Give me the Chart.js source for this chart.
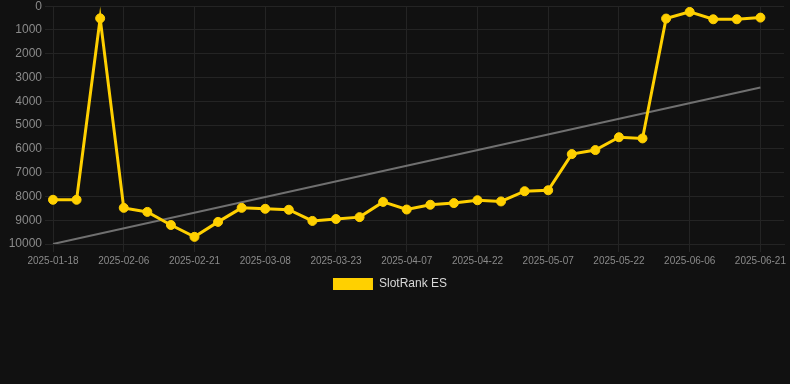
<!DOCTYPE html>
<html>
<head>
<meta charset="utf-8">
<script src="https://cdn.jsdelivr.net/npm/chart.js@4.4.1/dist/chart.umd.min.js"></script>
<style>
    html, body { margin: 0; padding: 0; background: #111111; overflow: hidden; }
    #wrap { width: 790px; height: 304px; margin-top: -4px; }
</style>
</head>
<body>
<div id="wrap"><canvas id="chart"></canvas></div>
<script>
// dates on the x axis (last one has no value, it only pads the right edge)
const dates = [
    '2025-01-18', '2025-01-27', '2025-02-01', '2025-02-06', '2025-02-11', '2025-02-16',
    '2025-02-21', '2025-02-26', '2025-03-03', '2025-03-08', '2025-03-13', '2025-03-18',
    '2025-03-23', '2025-03-28', '2025-04-02', '2025-04-07', '2025-04-12', '2025-04-17',
    '2025-04-22', '2025-04-27', '2025-05-02', '2025-05-07', '2025-05-12', '2025-05-17',
    '2025-05-22', '2025-05-27', '2025-06-01', '2025-06-06', '2025-06-11', '2025-06-16',
    '2025-06-21', '2025-06-26'
];

// rank values
const rankES = [
    8140, 8140, 510, 8480, 8650, 9200, 9700, 9070, 8480, 8520, 8560,
    9030, 8950, 8870, 8230, 8550, 8350, 8280, 8160, 8210, 7780, 7740,
    6220, 6050, 5510, 5560, 520, 240, 550, 550, 480
];

// trend line end points
const trendDates = ['2025-01-18', '2025-06-21'];
const trendValues = [10000, 3420];

const yTicks = { min: 0, max: 10000, step: 1000 };

const YELLOW = '#ffd000';
const GRID = '#242424';
const FONT = 'Arial, "Liberation Sans", Helvetica, sans-serif';

// legend sits a few px left of centre in the original
const legendShift = {
    id: 'legendShift',
    afterLayout(chart) {
        chart.legend.left -= 5;
        chart.legend.right -= 5;
    }
};

new Chart(document.getElementById('chart'), {
    type: 'line',
    plugins: [legendShift],
    data: {
        labels: dates,
        datasets: [
            {
                label: 'SlotRank ES',
                data: rankES,
                borderColor: YELLOW,
                backgroundColor: YELLOW,
                borderWidth: 3,
                pointRadius: 4.5,
                pointBorderWidth: 1,
                pointHoverRadius: 5,
                pointBackgroundColor: YELLOW,
                pointBorderColor: YELLOW,
                tension: 0
            },
            {
                label: 'trend',
                data: trendDates.map((d, i) => ({ x: d, y: trendValues[i] })),
                borderColor: '#707070',
                borderWidth: 2,
                pointRadius: 0,
                tension: 0
            }
        ]
    },
    options: {
        responsive: true,
        maintainAspectRatio: false,
        animation: false,
        plugins: {
            legend: {
                position: 'bottom',
                labels: {
                    boxWidth: 40,
                    boxHeight: 12,
                    padding: 8,
                    color: '#d8d8d8',
                    font: { family: FONT, size: 12 },
                    filter: item => item.text !== 'trend',
                    generateLabels: chart => Chart.defaults.plugins.legend.labels.generateLabels(chart)
                        .map(item => Object.assign(item, { lineWidth: 0 }))
                }
            },
            tooltip: { enabled: false }
        },
        scales: {
            x: {
                grid: {
                    color: ctx => ctx.index % 3 === 0 ? GRID : 'transparent'
                },
                border: { color: GRID },
                ticks: {
                    autoSkip: false,
                    maxRotation: 0,
                    color: '#8a8a8a',
                    font: { family: FONT, size: 10 },
                    callback: function (v, i) { return i % 3 === 0 ? this.getLabelForValue(v) : ''; }
                }
            },
            y: {
                reverse: true,
                min: yTicks.min,
                max: yTicks.max,
                afterFit: scale => { scale.width = 53; },
                grid: { color: GRID },
                border: { color: GRID },
                ticks: {
                    stepSize: yTicks.step,
                    color: '#8a8a8a',
                    font: { family: FONT, size: 12 },
                    callback: v => String(v)
                }
            }
        }
    }
});
</script>
</body>
</html>
